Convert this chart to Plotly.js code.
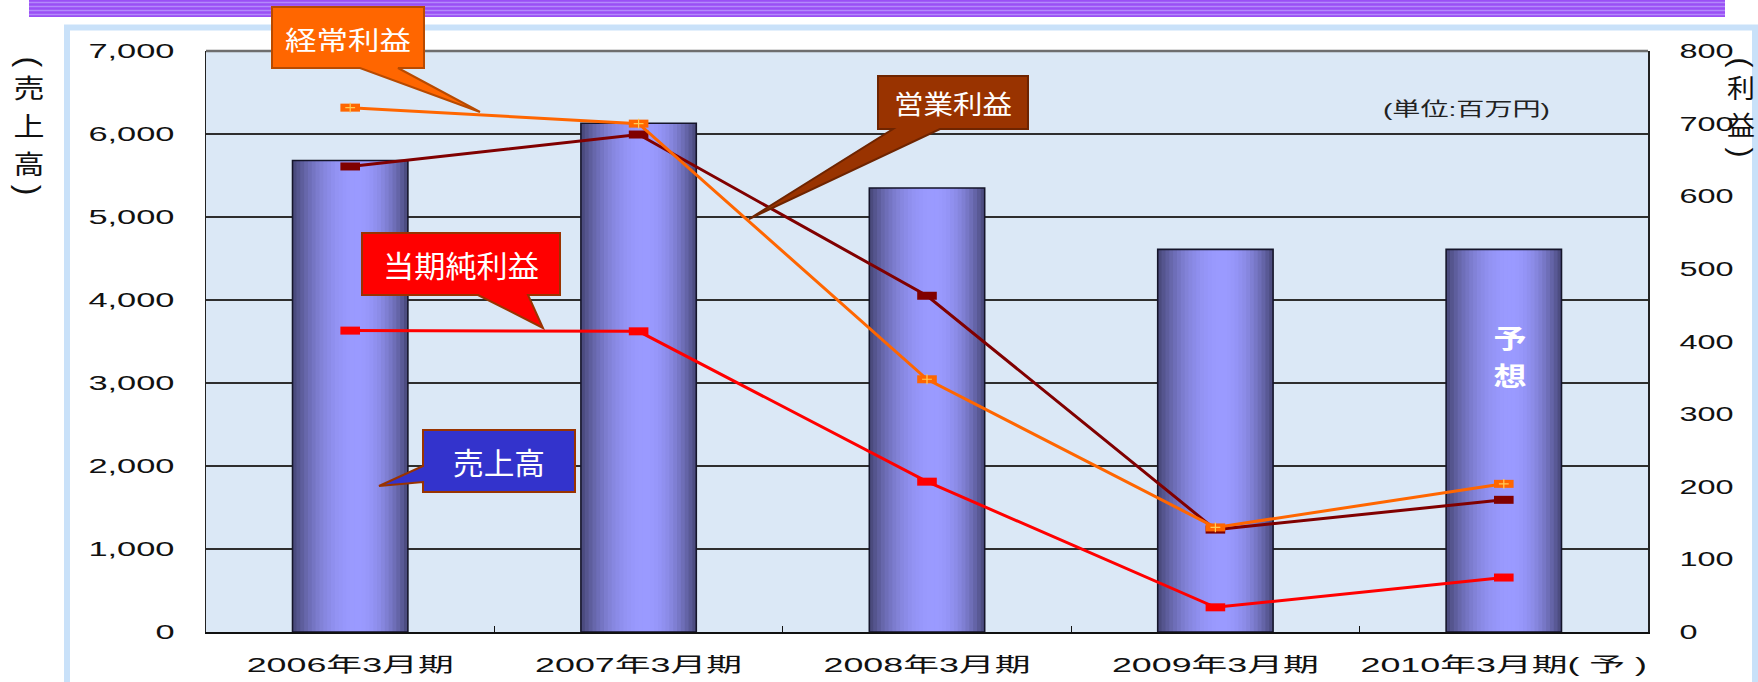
<!DOCTYPE html>
<html>
<head>
<meta charset="utf-8">
<script src="https://cdn.plot.ly/plotly-3.0.1.min.js"></script>
<style>
  html, body { margin: 0; padding: 0; background: #ffffff; }
  #chart { width: 1758px; height: 682px; }
</style>
</head>
<body>
<div id="chart"></div>
<script>
// ---- data ----
const categories = ['2006年3月期', '2007年3月期', '2008年3月期', '2009年3月期', '2010年3月期( 予 )'];
const sales = [5680, 6130, 5350, 4610, 4610];            // 売上高 (left axis)
const ordinaryProfit = [722, 700, 348, 144, 204];        // 経常利益 (right axis)
const operatingProfit = [641, 685, 463, 141, 182];       // 営業利益 (right axis)
const netProfit = [415, 414, 207, 34, 75];               // 当期純利益 (right axis)
const leftTicks = [0, 1000, 2000, 3000, 4000, 5000, 6000, 7000];
const rightTicks = [0, 100, 200, 300, 400, 500, 600, 700, 800];

// ---- layout helpers (pixel -> paper) ----
const ML = 206, MR = 110, MT = 51, MB = 50, W = 1758, H = 682;
const PW = W - ML - MR, PH = H - MT - MB;
const PX = px => (px - ML) / PW;
const PY = py => (H - MB - py) / PH;
function pathFrom(pts) {
  return 'M' + pts.map(p => PX(p[0]).toFixed(5) + ',' + PY(p[1]).toFixed(5)).join(' L') + ' Z';
}

const FONT = 'Liberation Sans, Arial, Noto Sans CJK JP, sans-serif';
const CJK = 'Noto Sans CJK JP, sans-serif';

// ---- cylinder-like bars built from thin overlaid strips ----
const traces = [];
const N = 30, BW = 0.4, step = BW / N;
const dark = [70, 70, 118], light = [154, 154, 255], peak = 0.56;
function gradColor(t) {
  const d = t < peak ? (peak - t) / peak : (t - peak) / (1 - peak);
  const s = 1 - Math.pow(d, 2.1);
  const c = dark.map((v, k) => Math.round(v + (light[k] - v) * s));
  return 'rgb(' + c.join(',') + ')';
}
for (let i = 0; i < N; i++) {
  traces.push({
    type: 'bar', x: categories, y: sales,
    offset: -BW / 2 + i * step,
    width: i < N - 1 ? step * 1.6 : step,
    marker: { color: gradColor((i + 0.5) / N), line: { width: 0 } },
    hoverinfo: 'skip', showlegend: false
  });
}
traces.push({
  type: 'bar', x: categories, y: sales, name: '売上高',
  offset: -BW / 2, width: BW,
  marker: { color: 'rgba(0,0,0,0)', line: { color: '#15152a', width: 1.6 } },
  showlegend: false
});

function lineTrace(y, color, name) {
  return {
    type: 'scatter', mode: 'lines+markers', x: categories, y: y, yaxis: 'y2', name: name,
    line: { color: color, width: 3 },
    marker: { symbol: 'line-ew', size: 14, color: color, line: { color: color, width: 8 } },
    showlegend: false
  };
}
traces.push(lineTrace(netProfit, '#ff0000', '当期純利益'));
traces.push(lineTrace(operatingProfit, '#800000', '営業利益'));
traces.push(lineTrace(ordinaryProfit, '#ff6600', '経常利益'));
traces.push({
  type: 'scatter', mode: 'markers', x: categories, y: ordinaryProfit, yaxis: 'y2',
  marker: { symbol: 'cross-thin', size: 7, color: '#ffcc55', line: { color: '#ffcc55', width: 1.2 } },
  hoverinfo: 'skip', showlegend: false
});

// ---- shapes ----
const shapes = [];
// top purple stripe
shapes.push({ type: 'rect', xref: 'paper', yref: 'paper', x0: PX(29), x1: PX(1725), y0: PY(17), y1: PY(0),
  fillcolor: '#9a4ff5', line: { width: 0 }, layer: 'above' });
[2.5, 6.5, 10.5, 14.5].forEach(yy => shapes.push({ type: 'line', xref: 'paper', yref: 'paper',
  x0: PX(29), x1: PX(1725), y0: PY(yy), y1: PY(yy), line: { color: '#b489fb', width: 1.4 }, layer: 'above' }));
// light blue frame
shapes.push({ type: 'rect', xref: 'paper', yref: 'paper', x0: PX(67), x1: PX(1755), y0: PY(700), y1: PY(27.5),
  line: { color: '#c9e1f9', width: 6 }, fillcolor: 'rgba(0,0,0,0)', layer: 'above' });
// top border of plot area
shapes.push({ type: 'line', xref: 'paper', yref: 'paper', x0: 0, x1: 1, y0: 1, y1: 1,
  line: { color: '#6e6e6e', width: 2.5 }, layer: 'above' });

// callouts
const callouts = [
  { pts: [[272, 7], [424, 7], [424, 68], [398, 68], [480, 112], [360, 68], [272, 68]], fill: '#ff6600', border: '#b84a00' },
  { pts: [[878, 76], [1028, 76], [1028, 129], [940, 129], [749, 219], [893, 129], [878, 129]], fill: '#993300', border: '#6e2400' },
  { pts: [[362, 233], [560, 233], [560, 295], [528, 295], [543, 328], [478, 295], [362, 295]], fill: '#ff0000', border: '#993300' },
  { pts: [[423, 430], [575, 430], [575, 492], [423, 492], [423, 482], [379, 486], [423, 466]], fill: '#3333cc', border: '#993300' }
];
callouts.forEach(c => shapes.push({ type: 'path', xref: 'paper', yref: 'paper', path: pathFrom(c.pts),
  fillcolor: c.fill, line: { color: c.border, width: 2 }, layer: 'above' }));

// ---- annotations ----
const annotations = [];
const stretchTo = [];   // target pixel width per annotation (null = natural)
const rotateIdx = [];   // annotations whose glyph is turned for vertical writing
function ann(text, px, py, size, color, family, target, weight, rot) {
  annotations.push({ text: text, xref: 'paper', yref: 'paper', x: PX(px), y: PY(py),
    xanchor: 'center', yanchor: 'middle', showarrow: false,
    font: { family: family, size: size, color: color, weight: weight || 'normal' } });
  stretchTo.push(target || null);
  if (rot) rotateIdx.push(annotations.length - 1);
}
ann('経常利益', 348, 38, 26, '#ffffff', CJK, 126);
ann('営業利益', 953, 103, 26, '#ffffff', CJK, 118);
ann('当期純利益', 461, 264, 30, '#ffffff', CJK, 156);
ann('売上高', 499, 461, 30, '#ffffff', CJK, 92);
ann('(単位:百万円)', 1466, 109, 19, '#222222', FONT, 167);
ann('予', 1510, 336, 26, '#ffffff', CJK, 33, 'bold');
ann('想', 1510, 374, 26, '#ffffff', CJK, 33, 'bold');
// left axis title (vertical)
ann('(', 29, 62, 32, '#111111', FONT, null, 'normal', true);
ann('売', 29, 87, 26, '#111111', CJK, 31);
ann('上', 29, 125, 26, '#111111', CJK, 31);
ann('高', 29, 163, 26, '#111111', CJK, 31);
ann(')', 29, 190, 32, '#111111', FONT, null, 'normal', true);
// right axis title (vertical)
ann('(', 1741, 62, 30, '#111111', FONT, null, 'normal', true);
ann('利', 1741, 87, 26, '#111111', CJK, 28);
ann('益', 1741, 124, 26, '#111111', CJK, 28);
ann(')', 1741, 152, 30, '#111111', FONT, null, 'normal', true);

const layout = {
  width: W, height: H,
  margin: { l: ML, r: MR, t: MT, b: MB, pad: 0 },
  paper_bgcolor: '#ffffff', plot_bgcolor: '#dbe8f6',
  barmode: 'overlay', showlegend: false, hovermode: false,
  xaxis: {
    type: 'category', categoryorder: 'array', categoryarray: categories, range: [-0.5, 4.5],
    showline: true, linecolor: '#111111', linewidth: 2,
    ticks: 'inside', tickson: 'boundaries', ticklen: 6, tickcolor: '#111111', tickwidth: 1,
    tickfont: { family: FONT, size: 20, color: '#111111' }, ticklabelstandoff: 14,
    showgrid: false, zeroline: false
  },
  yaxis: {
    range: [0, 7000], tickvals: leftTicks, tickformat: ',d',
    showgrid: true, gridcolor: '#2e2e2e', gridwidth: 1.2,
    showline: true, linecolor: '#222222', linewidth: 1.5,
    ticks: '', ticklabelstandoff: 26,
    tickfont: { family: FONT, size: 20, color: '#111111' }, zeroline: false
  },
  yaxis2: {
    overlaying: 'y', side: 'right', range: [0, 800], tickvals: rightTicks,
    showgrid: false, showline: true, linecolor: '#222222', linewidth: 1.5,
    ticks: '', ticklabelstandoff: 26,
    tickfont: { family: FONT, size: 20, color: '#111111' }, zeroline: false
  },
  shapes: shapes,
  annotations: annotations
};

function stretchSel(sel, factor) {
  document.querySelectorAll(sel).forEach(t => {
    const L = t.getComputedTextLength();
    if (L > 0) {
      t.setAttribute('textLength', (L * factor).toFixed(1));
      t.setAttribute('lengthAdjust', 'spacingAndGlyphs');
    }
  });
}

(document.fonts ? document.fonts.ready : Promise.resolve()).then(() =>
  Plotly.newPlot('chart', traces, layout, { staticPlot: true, displayModeBar: false })
).then(() => {
  stretchSel('#chart g.xtick > text', 1.79);
  stretchSel('#chart g.ytick > text', 1.72);
  stretchSel('#chart g.y2tick > text', 1.62);
  document.querySelectorAll('#chart g.annotation').forEach(g => {
    const i = +g.getAttribute('data-index');
    const t = g.querySelector('text.annotation-text');
    if (!t) return;
    const target = stretchTo[i];
    if (target) {
      t.setAttribute('textLength', target);
      t.setAttribute('lengthAdjust', 'spacingAndGlyphs');
    }
    if (rotateIdx.indexOf(i) >= 0) {
      const bb = t.getBBox();
      const cx = bb.x + bb.width / 2, cy = bb.y + bb.height / 2;
      const prev = t.getAttribute('transform') || '';
      t.setAttribute('transform', (prev + ' rotate(90 ' + cx + ' ' + cy + ')').trim());
    }
  });
});
</script>
</body>
</html>
